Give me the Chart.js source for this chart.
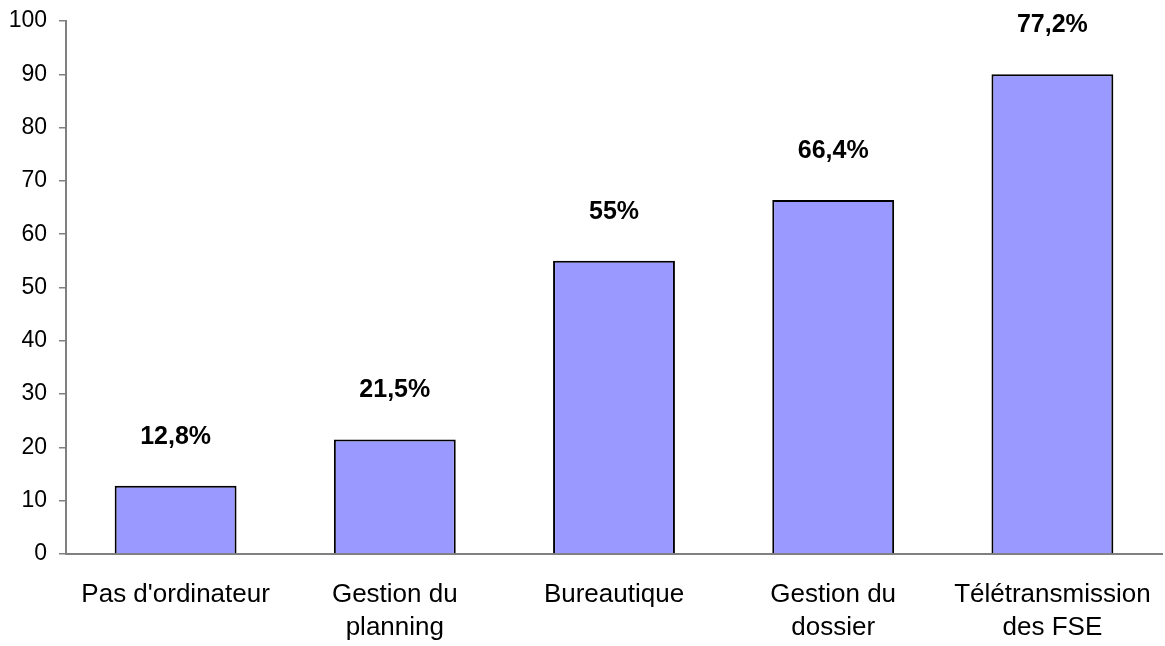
<!DOCTYPE html>
<html>
<head>
<meta charset="utf-8">
<script src="https://cdn.jsdelivr.net/npm/chart.js@4/dist/chart.umd.min.js"></script>
<style>
html,body{margin:0;padding:0;background:#fff;}
#wrap{width:1165px;height:646px;position:relative;}
</style>
</head>
<body>
<div id="wrap"><canvas id="c" width="1165" height="646"></canvas></div>
<script>
const categories = [["Pas d'ordinateur"], ["Gestion du", "planning"], ["Bureautique"], ["Gestion du", "dossier"], ["Télétransmission", "des FSE"]];
const values = [12.8, 21.5, 55, 66.4, 90];
const valueLabels = ["12,8%", "21,5%", "55%", "66,4%", "77,2%"];
const yTicks = [0, 10, 20, 30, 40, 50, 60, 70, 80, 90, 100];

const FONT = "'Liberation Sans', Arial, sans-serif";

const labelPlugin = {
  id: 'valueLabels',
  afterDatasetsDraw(chart) {
    const ctx = chart.ctx;
    const meta = chart.getDatasetMeta(0);
    ctx.save();
    ctx.font = "bold 25px " + FONT;
    ctx.fillStyle = '#000';
    ctx.textAlign = 'center';
    ctx.textBaseline = 'middle';
    meta.data.forEach((bar, i) => {
      ctx.fillText(valueLabels[i], bar.x, bar.y - 49);
    });
    ctx.restore();
  }
};

new Chart(document.getElementById('c'), {
  type: 'bar',
  data: {
    labels: categories,
    datasets: [{
      data: values,
      backgroundColor: '#9999FF',
      borderColor: '#000000',
      borderWidth: 2,
      barPercentage: 0.556,
      categoryPercentage: 1.0
    }]
  },
  options: {
    responsive: false,
    animation: false,
    devicePixelRatio: 1,
    layout: { padding: { top: 21, right: 3, left: 0, bottom: 0 } },
    plugins: { legend: { display: false }, tooltip: { enabled: false } },
    scales: {
      x: {
        grid: { display: false, drawTicks: false },
        border: { display: true, color: '#808080', width: 2 },
        ticks: {
          color: '#000',
          font: { family: FONT, size: 26, lineHeight: 1.27 },
          padding: 24,
          maxRotation: 0,
          autoSkip: false
        },
        afterFit(scale) { scale.height = 92; scale.paddingLeft = 0; scale.paddingRight = 0; }
      },
      y: {
        min: 0, max: 100,
        afterBuildTicks(scale) { scale.ticks = yTicks.map(v => ({ value: v })); },
        grid: { drawOnChartArea: false, drawTicks: true, tickLength: 7, color: '#808080', lineWidth: 1.5 },
        border: { display: true, color: '#808080', width: 2 },
        ticks: {
          color: '#000',
          font: { family: FONT, size: 23 },
          padding: 12
        },
        afterFit(scale) { scale.width = 66; scale.paddingTop = 0; scale.paddingBottom = 0; }
      }
    }
  },
  plugins: [labelPlugin]
});
</script>
</body>
</html>
